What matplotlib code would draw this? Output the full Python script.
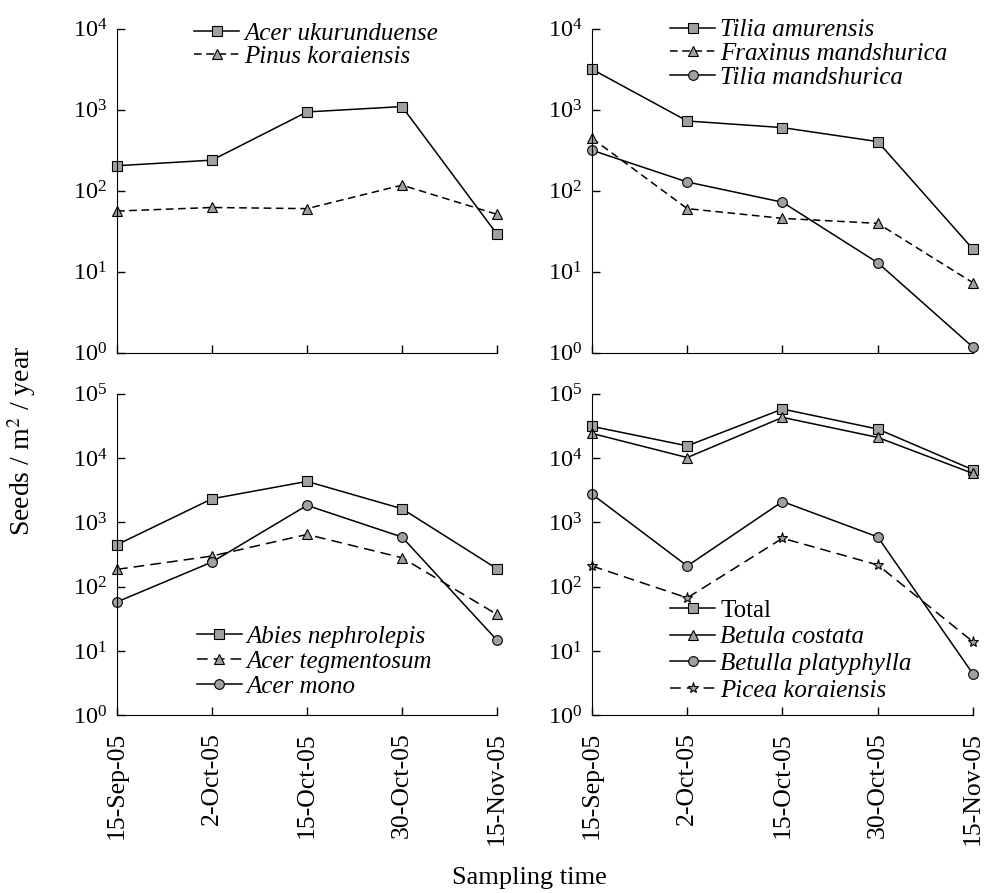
import matplotlib
matplotlib.use("Agg")
import matplotlib.pyplot as plt
from matplotlib.ticker import NullLocator, FixedLocator

plt.rcParams["font.family"] = ["Liberation Serif", "DejaVu Serif"]
plt.rcParams["mathtext.fontset"] = "stix"

# Sampling dates (plotted evenly spaced)
dates = ["15-Sep-05", "2-Oct-05", "15-Oct-05", "30-Oct-05", "15-Nov-05"]

# Panel a
acer_ukurunduense = [203, 238, 936, 1090, 29]
pinus_koraiensis = [56, 62, 60, 117, 51]

# Panel b
tilia_amurensis = [3150, 724, 600, 403, 19]
fraxinus_mandshurica = [443, 60, 45.5, 39.5, 7.3]
tilia_mandshurica = [315, 128, 72, 12.9, 1.17]

# Panel c
abies_nephrolepis = [450, 2330, 4340, 1630, 190]
acer_tegmentosum = [186, 300, 650, 282, 37]
acer_mono = [58, 242, 1840, 592, 14.7]

# Panel d
total = [31200, 15500, 58000, 28300, 6580]
betula_costata = [24200, 10200, 43000, 21000, 5770]
betulla_platyphylla = [2750, 210, 2110, 594, 4.4]
picea_koraiensis = [210, 67, 567, 218, 13.9]

x = list(range(len(dates)))
face = "#a0a0a0"

fig = plt.figure(figsize=(9.85, 8.93), dpi=100)
ax1 = fig.add_axes([0.1188, 0.605, 0.3858, 0.363])
ax2 = fig.add_axes([0.601, 0.605, 0.3868, 0.363])
ax3 = fig.add_axes([0.1188, 0.199, 0.3858, 0.360])
ax4 = fig.add_axes([0.601, 0.199, 0.3868, 0.360])


def line(ax, y, marker, ls, label, ms=7):
    ax.plot(x, y, color="black", lw=1.1, ls=ls, marker=marker, ms=ms,
            mfc=face, mec="black", mew=0.8, label=label, clip_on=False)


line(ax1, acer_ukurunduense, "s", "-", "Acer ukurunduense")
line(ax1, pinus_koraiensis, "^", (0, (5, 3)), "Pinus koraiensis")

line(ax2, tilia_amurensis, "s", "-", "Tilia amurensis")
line(ax2, fraxinus_mandshurica, "^", (0, (5, 3)), "Fraxinus mandshurica")
line(ax2, tilia_mandshurica, "o", "-", "Tilia mandshurica")

line(ax3, abies_nephrolepis, "s", "-", "Abies nephrolepis")
line(ax3, acer_tegmentosum, "^", (0, (7, 4)), "Acer tegmentosum")
line(ax3, acer_mono, "o", "-", "Acer mono")

line(ax4, total, "s", "-", "Total")
line(ax4, betula_costata, "^", "-", "Betula costata")
line(ax4, betulla_platyphylla, "o", "-", "Betulla platyphylla")
line(ax4, picea_koraiensis, "*", (0, (7, 4)), "Picea koraiensis", ms=8)

for ax, top in [(ax1, 4), (ax2, 4), (ax3, 5), (ax4, 5)]:
    ax.set_yscale("log")
    ax.set_ylim(1, 10 ** top)
    ax.yaxis.set_major_locator(FixedLocator([10 ** k for k in range(top + 1)]))
    ax.yaxis.set_minor_locator(NullLocator())
    ax.set_xlim(0, 4)
    ax.set_xticks(x)
    ax.spines["top"].set_visible(False)
    ax.spines["right"].set_visible(False)
    ax.tick_params(direction="in", length=6, width=1)
    ax.tick_params(axis="y", pad=7, labelsize=17.5)
    ax.tick_params(axis="x", pad=12, labelsize=18.5)
    if ax in (ax3, ax4):
        ax.set_xticklabels(dates, rotation=90)
    else:
        ax.set_xticklabels([])

leg_kw = dict(frameon=False, loc="upper left", fontsize=18, handlelength=1.8,
              handletextpad=0.2, borderpad=0, borderaxespad=0)
l1 = ax1.legend(bbox_to_anchor=(0.203, 1.018), labelspacing=0.02, **leg_kw)
l2 = ax2.legend(bbox_to_anchor=(0.205, 1.03), labelspacing=0.05, **leg_kw)
l3 = ax3.legend(bbox_to_anchor=(0.21, 0.28), labelspacing=0.1, **leg_kw)
l4 = ax4.legend(bbox_to_anchor=(0.205, 0.361), labelspacing=0.17, **leg_kw)
for leg in (l1, l2, l3, l4):
    for t in leg.get_texts():
        if t.get_text() != "Total":
            t.set_fontstyle("italic")

fig.text(0.022, 0.506, "Seeds / m$^2$ / year", rotation=90, fontsize=20,
         ha="center", va="center")
fig.text(0.537, 0.004, "Sampling time", fontsize=19, ha="center", va="bottom")

fig.savefig("out.png", dpi=100)
